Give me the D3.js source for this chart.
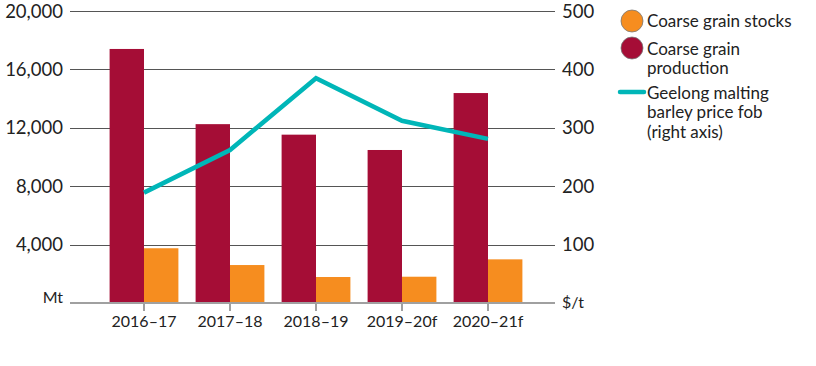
<!DOCTYPE html>
<html>
<head>
<meta charset="utf-8">
<script src="https://cdn.jsdelivr.net/npm/d3@7"></script>
<style>
  body { margin: 0; background: #fff; }
  text { font-family: Lato, "Open Sans", sans-serif; fill: #222; }
</style>
</head>
<body>
<svg id="chart" width="816" height="366"></svg>
<script>
// data
var years = ["2016–17", "2017–18", "2018–19", "2019–20f", "2020–21f"];
var production = [17400, 12250, 11530, 10480, 14380];
var stocks = [3750, 2600, 1780, 1800, 2990];
var price = [189, 262, 385, 312, 281];
var leftTicks = [4000, 8000, 12000, 16000, 20000];
var rightTicks = [100, 200, 300, 400, 500];

var prodColor = "#a50d36",
    stockColor = "#f68d1f",
    lineColor = "#00b6b8";

var svg = d3.select("#chart");

var x0 = 70, x1 = 555, yTop = 11, yBot = 303;

var x = d3.scaleBand().domain(years).range([101, 531]).paddingInner(0.2).paddingOuter(0.1);
var yL = d3.scaleLinear().domain([0, 20000]).range([yBot, yTop]);
var yR = d3.scaleLinear().domain([0, 500]).range([yBot, yTop]);

// gridlines
svg.selectAll(".grid").data(leftTicks).enter()
  .append("line")
    .attr("class", "grid")
    .attr("x1", x0).attr("x2", x1)
    .attr("y1", function(d){ return Math.round(yL(d)) + 0.5; })
    .attr("y2", function(d){ return Math.round(yL(d)) + 0.5; })
    .style("stroke", "#555")
    .style("stroke-width", 1);

var bw = x.bandwidth() / 2;

// production bars
svg.selectAll(".prod").data(production).enter()
  .append("rect")
    .attr("class", "prod")
    .attr("x", function(d, i){ return x(years[i]); })
    .attr("width", bw)
    .attr("y", function(d){ return yL(d); })
    .attr("height", function(d){ return yBot - yL(d); })
    .style("fill", prodColor);

// stock bars
svg.selectAll(".stock").data(stocks).enter()
  .append("rect")
    .attr("class", "stock")
    .attr("x", function(d, i){ return x(years[i]) + bw; })
    .attr("width", bw)
    .attr("y", function(d){ return yL(d); })
    .attr("height", function(d){ return yBot - yL(d); })
    .style("fill", stockColor);

// baseline + ticks
svg.append("line")
  .attr("x1", x0).attr("x2", x1)
  .attr("y1", yBot).attr("y2", yBot)
  .style("stroke", "#a0a0a0").style("stroke-width", 2);

svg.selectAll(".xtick").data(years).enter()
  .append("line")
    .attr("x1", function(d){ return x(d) + bw; })
    .attr("x2", function(d){ return x(d) + bw; })
    .attr("y1", yBot).attr("y2", yBot + 8)
    .style("stroke", "#a0a0a0").style("stroke-width", 2);

svg.selectAll(".xlabel").data(years).enter()
  .append("text")
    .attr("x", function(d){ return x(d) + bw; })
    .attr("y", 327)
    .attr("text-anchor", "middle")
    .attr("font-size", "16px")
    .text(function(d){ return d; });

// left axis labels
svg.selectAll(".ylabel").data(leftTicks).enter()
  .append("text")
    .attr("x", 63)
    .attr("y", function(d){ return yL(d) + 6.5; })
    .attr("text-anchor", "end")
    .attr("font-size", "18.5px")
    .text(function(d){ return d3.format(",")(d); });
svg.append("text")
  .attr("x", 63).attr("y", yBot)
  .attr("text-anchor", "end")
  .attr("font-size", "16px")
  .text("Mt");

// right axis labels
svg.selectAll(".rlabel").data(rightTicks).enter()
  .append("text")
    .attr("x", 562)
    .attr("y", function(d){ return yR(d) + 6.5; })
    .attr("font-size", "18.5px")
    .text(function(d){ return d; });
svg.append("text")
  .attr("x", 562).attr("y", yBot + 5)
  .attr("font-size", "16px")
  .text("$/t");

// price line
var line = d3.line()
  .x(function(d, i){ return x(years[i]) + bw; })
  .y(function(d){ return yR(d); });

svg.append("path")
  .datum(price)
  .attr("d", line)
  .style("fill", "none")
  .style("stroke", lineColor)
  .style("stroke-width", 4.5);

// legend
var lg = svg.append("g");
lg.append("circle").attr("cx", 632).attr("cy", 21).attr("r", 11)
  .style("fill", stockColor).style("stroke", "#777").style("stroke-width", 0.8);
lg.append("text").attr("x", 647).attr("y", 27).attr("font-size", "17px").text("Coarse grain stocks");

lg.append("circle").attr("cx", 632).attr("cy", 48).attr("r", 11)
  .style("fill", prodColor).style("stroke", "#777").style("stroke-width", 0.8);
lg.append("text").attr("x", 647).attr("y", 54.5).attr("font-size", "17px").text("Coarse grain");
lg.append("text").attr("x", 647).attr("y", 73.5).attr("font-size", "17px").text("production");

lg.append("line").attr("x1", 620).attr("x2", 644).attr("y1", 92).attr("y2", 92)
  .style("stroke", lineColor).style("stroke-width", 4.5).style("stroke-linecap", "round");
["Geelong malting", "barley price fob", "(right axis)"].forEach(function(t, i){
  lg.append("text").attr("x", 647).attr("y", 99 + 19.3 * i).attr("font-size", "17px").text(t);
});
</script>
</body>
</html>
